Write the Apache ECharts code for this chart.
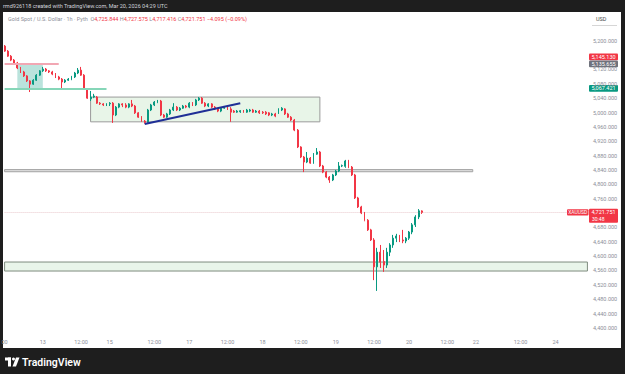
<!DOCTYPE html>
<html>
<head>
<meta charset="utf-8">
<script src="https://cdn.jsdelivr.net/npm/echarts@6/dist/echarts.min.js"></script>
<style>
  html, body { margin: 0; padding: 0; background: #1e1e1e; }
  #panel { position: absolute; left: 3px; top: 12px; width: 618px; height: 336px; background: #ffffff; }
  #chart { position: absolute; left: 0; top: 0; width: 625px; height: 374px; }
</style>
</head>
<body>
<div id="panel"></div>
<div id="chart"></div>
<script>
// XAUUSD 1h candles, [open, close, low, high]
const candles = [
  [5185, 5171, 5169, 5188], [5171, 5157, 5155, 5174], [5157, 5146, 5143, 5160], [5146, 5138, 5135, 5149],
  [5138, 5124, 5121, 5141], [5124, 5113, 5110, 5127], [5113, 5102, 5099, 5116], [5102, 5088, 5085, 5104],
  [5088, 5079, 5057, 5090], [5079, 5090, 5077, 5093], [5090, 5104, 5088, 5107], [5104, 5116, 5102, 5118],
  [5116, 5121, 5113, 5127], [5121, 5116, 5113, 5124], [5116, 5113, 5110, 5118], [5113, 5107, 5104, 5116],
  [5107, 5099, 5096, 5110], [5099, 5093, 5090, 5102], [5093, 5085, 5065, 5096], [5085, 5090, 5082, 5093],
  [5090, 5093, 5088, 5096], [5093, 5099, 5090, 5102], [5099, 5110, 5096, 5113], [5110, 5118, 5107, 5124],
  [5118, 5104, 5102, 5127], [5104, 5065, 5063, 5107], [5065, 5040, 5038, 5068], [5038, 5043, 5032, 5060],
  [5043, 5046, 5040, 5052], [5043, 5026, 5024, 5046], [5026, 5024, 5021, 5029], [5024, 5021, 5018, 5026],
  [5021, 5024, 5018, 5026], [5024, 5026, 5018, 5029], [5026, 4993, 4971, 5029], [4993, 5015, 4990, 5018],
  [5015, 5024, 5012, 5026], [5024, 5021, 5015, 5026], [5021, 5015, 5012, 5026], [5015, 5024, 5012, 5026],
  [5024, 5018, 5015, 5035], [5018, 4999, 4996, 5021], [4999, 4987, 4985, 5001], [4987, 4976, 4974, 4990],
  [4976, 4972, 4969, 4979], [4972, 5007, 4971, 5010], [5007, 5021, 5004, 5024], [5021, 5029, 5018, 5032],
  [5029, 5032, 5026, 5035], [5032, 4993, 4990, 5035], [4993, 4987, 4985, 4996], [4987, 4996, 4985, 4999],
  [4996, 5007, 4993, 5010], [5007, 5015, 5004, 5026], [5015, 5007, 5004, 5018], [5007, 5012, 5004, 5015],
  [5012, 5018, 5010, 5021], [5018, 5015, 5012, 5021], [5015, 5026, 5012, 5029], [5026, 5021, 5018, 5029],
  [5021, 5035, 5018, 5038], [5035, 5040, 5032, 5043], [5040, 5026, 5024, 5043], [5026, 5018, 5015, 5029],
  [5018, 5024, 5015, 5026], [5024, 5015, 5012, 5026], [5015, 5010, 5007, 5018], [5010, 5004, 5001, 5012],
  [5004, 5012, 5001, 5015], [5012, 5015, 5010, 5018], [5015, 5010, 5007, 5018], [5010, 5001, 4974, 5015],
  [5004, 5001, 4999, 5007], [5001, 5004, 4999, 5007], [5002, 5005, 4999, 5007], [5004, 5001, 4999, 5007],
  [5001, 5007, 4999, 5010], [5004, 5007, 5001, 5010], [5007, 5001, 4999, 5010], [5001, 5004, 4999, 5007],
  [5004, 4999, 4996, 5007], [5001, 4999, 4996, 5004], [5001, 4996, 4993, 5004], [4999, 4993, 4990, 5001],
  [4993, 4996, 4990, 4999], [4996, 4990, 4987, 4999], [4999, 5010, 4996, 5012], [5007, 5012, 5004, 5015],
  [5010, 4996, 4993, 5012], [4996, 4987, 4985, 4999], [4987, 4979, 4976, 4990], [4979, 4951, 4948, 4982],
  [4951, 4904, 4901, 4954], [4904, 4876, 4873, 4906], [4876, 4862, 4834, 4879], [4862, 4873, 4859, 4890],
  [4873, 4859, 4857, 4876], [4859, 4884, 4857, 4887], [4884, 4890, 4882, 4901], [4890, 4851, 4848, 4893],
  [4851, 4834, 4831, 4854], [4834, 4820, 4817, 4837], [4820, 4812, 4804, 4823], [4812, 4826, 4809, 4829],
  [4826, 4837, 4823, 4840], [4837, 4851, 4834, 4862], [4851, 4852, 4848, 4855], [4850, 4865, 4846, 4868],
  [4865, 4848, 4845, 4868], [4848, 4826, 4823, 4851], [4826, 4762, 4759, 4829], [4762, 4737, 4734, 4765],
  [4737, 4720, 4717, 4740], [4720, 4700, 4697, 4723], [4700, 4673, 4670, 4703], [4673, 4645, 4642, 4676],
  [4645, 4570, 4533, 4650], [4570, 4611, 4503, 4623], [4611, 4583, 4567, 4631], [4585, 4575, 4556, 4617],
  [4575, 4611, 4567, 4623], [4611, 4631, 4600, 4636], [4631, 4650, 4623, 4659], [4650, 4656, 4639, 4662],
  [4656, 4645, 4639, 4659], [4645, 4642, 4636, 4673], [4642, 4650, 4636, 4653], [4650, 4667, 4645, 4670],
  [4667, 4687, 4661, 4692], [4687, 4709, 4681, 4714], [4709, 4726, 4703, 4731],
  [4725.844, 4721.751, 4717.416, 4727.575]
];
const futureBars = 52; // empty hourly slots to the right of the last candle
const categories = Array.from({ length: candles.length + futureBars }, (_, i) => String(i));

// time scale labels: [bar index, text] (the first one is cut by the left edge in the original)
const tickLabels = [
  [0, '00'], [12, '13'], [24, '12:00'], [33, '15'], [47, '12:00'], [58, '17'],
  [70, '12:00'], [81, '18'], [93, '12:00'], [104, '19'], [116, '12:00'], [127, '20'],
  [139, '12:00'], [148, '22'], [162, '12:00'], [173, '24']
];
// price-scale values hidden behind the tags in the original
const hiddenPriceLabels = [5160, 4720];

// drawings
const pinkLevel = 5135.655;
const greenLevel = 5067.421;
const redTagLevel = 5145.130;
const lastPrice = 4721.751;
const positionBox = [4, 12, 5135.655, 5067.421];     // x from, x to, top, bottom
const rangeBox = [27, 99, 5043, 4974];
const midBand = [0, 147, 4841, 4835];
const lowBand = [0, 183, 4583.5, 4558.4];
const trendLine = [[44, 4968], [74, 5026]];

const UP = '#089981';
const DOWN = '#f23645';
const FONT = 'Roboto';

const labelMap = {};
tickLabels.forEach(t => { labelMap[t[0]] = t[1]; });

const fmt = v => v.toLocaleString('en-US', { minimumFractionDigits: 3, maximumFractionDigits: 3 });

const chart = echarts.init(document.getElementById('chart'), null, { renderer: 'svg' });

const box = (b, style) => [
  { coord: [b[0], b[2]], itemStyle: style },
  { coord: [b[1], b[3]] }
];

chart.setOption({
  animation: false,
  backgroundColor: 'transparent',
  textStyle: { fontFamily: FONT },
  grid: { left: 3, right: 36, top: 26.35, bottom: 31.75, containLabel: false, outerBoundsMode: 'none' },
  xAxis: {
    type: 'category',
    data: categories,
    boundaryGap: true,
    axisLine: { show: false },
    axisTick: { show: false },
    splitLine: { show: false },
    axisLabel: {
      interval: (idx) => labelMap[idx] !== undefined,
      formatter: (v, idx) => labelMap[idx] || '',
      color: '#8c8f99',
      fontSize: 5.5,
      margin: -3
    }
  },
  yAxis: {
    type: 'value',
    position: 'right',
    min: 4360,
    max: 5240,
    interval: 40,
    axisLine: { show: false },
    axisTick: { show: false },
    splitLine: { show: false },
    axisLabel: {
      color: '#8c8f99',
      fontSize: 5.5,
      margin: 4,
      showMinLabel: false,
      showMaxLabel: false,
      formatter: v => (hiddenPriceLabels.includes(v) ? '' : fmt(v))
    }
  },
  series: [{
    type: 'candlestick',
    data: candles,
    barWidth: 1.4,
    itemStyle: { color: UP, color0: DOWN, borderColor: UP, borderColor0: DOWN, borderWidth: 1 },
    markArea: {
      silent: true,
      data: [
        box(positionBox, { color: 'rgba(8,153,129,0.28)' }),
        box(rangeBox, { color: 'rgba(76,175,80,0.13)', borderColor: '#9a9a9a', borderWidth: 1 }),
        box(midBand, { color: 'rgba(120,120,120,0.25)', borderColor: '#a3a3a3', borderWidth: 1 }),
        box(lowBand, { color: 'rgba(76,175,80,0.12)', borderColor: '#7f8c7f', borderWidth: 1 })
      ]
    },
    markLine: {
      silent: true,
      symbol: ['none', 'none'],
      label: { show: false },
      data: [
        [{ coord: [0, pinkLevel], lineStyle: { color: '#f2a7b3', width: 2, type: 'solid' } }, { coord: [17, pinkLevel] }],
        [{ coord: [0, greenLevel], lineStyle: { color: '#86d6b8', width: 2, type: 'solid' } }, { coord: [32, greenLevel] }],
        [{ coord: trendLine[0], lineStyle: { color: '#1f2f96', width: 2, type: 'solid' } }, { coord: trendLine[1] }],
        [{ coord: [0, lastPrice], lineStyle: { color: 'rgba(200,120,130,0.4)', width: 1, type: 'dotted' } }, { coord: [categories.length - 1, lastPrice] }]
      ]
    }
  }]
});

// price-scale tags, header and footer
const yPix = v => chart.convertToPixel({ yAxisIndex: 0 }, v);
const tagX = 589, tagW = 29;
const tag = (yc, bg, text) => ({
  type: 'group',
  children: [
    { type: 'rect', shape: { x: tagX, y: yc - 3.4, width: tagW, height: 6.8, r: 1 }, style: { fill: bg } },
    { type: 'text', x: tagX + tagW / 2, y: yc, style: { text: text, fill: '#fff', fontSize: 5.5, fontFamily: FONT, align: 'center', verticalAlign: 'middle' } }
  ]
});

const yGray = yPix(pinkLevel);
const yRed = Math.min(yPix(redTagLevel), yGray - 7);
const yLast = yPix(lastPrice);

chart.setOption({
  graphic: [
    { type: 'text', x: 3, y: 6, style: { text: 'rmd926118 created with TradingView.com, Mar 20, 2026 04:29 UTC', fill: '#d1d4dc', fontSize: 5.5, fontFamily: FONT, verticalAlign: 'middle' } },
    {
      type: 'text', x: 8, y: 19,
      style: {
        text: '{g|Gold Spot / U.S. Dollar · 1h · Pyth}  {g|O}{r|4,725.844} {g|H}{r|4,727.575} {g|L}{r|4,717.416} {g|C}{r|4,721.751} {r|−4.095 (−0.09%)}',
        verticalAlign: 'middle', fontFamily: FONT, fontSize: 5.5,
        rich: { g: { fill: '#8c8f99', fontSize: 5.5, fontFamily: FONT }, r: { fill: DOWN, fontSize: 5.5, fontFamily: FONT } }
      }
    },
    { type: 'text', x: 596, y: 19, style: { text: 'USD', fill: '#4a4a4a', fontSize: 5.5, fontFamily: FONT, verticalAlign: 'middle' } },
    { type: 'line', shape: { x1: 592, y1: 25.5, x2: 617, y2: 25.5 }, style: { stroke: '#d6d6d6', lineWidth: 1 } },
    tag(yRed, DOWN, fmt(redTagLevel)),
    tag(yGray, '#6f727c', fmt(pinkLevel)),
    tag(yPix(greenLevel), UP, fmt(greenLevel)),
    {
      type: 'group',
      children: [
        { type: 'rect', shape: { x: 567, y: yLast - 3.2, width: 21.5, height: 6.4, r: 1 }, style: { fill: DOWN } },
        { type: 'text', x: 577.7, y: yLast, style: { text: 'XAUUSD', fill: '#fff', fontSize: 5, fontFamily: FONT, align: 'center', verticalAlign: 'middle' } },
        { type: 'rect', shape: { x: tagX, y: yLast - 3.6, width: tagW, height: 14, r: 1 }, style: { fill: DOWN } },
        { type: 'text', x: tagX + tagW / 2, y: yLast, style: { text: fmt(lastPrice), fill: '#fff', fontSize: 5.5, fontFamily: FONT, align: 'center', verticalAlign: 'middle' } },
        { type: 'text', x: tagX + 3, y: yLast + 6.8, style: { text: '30:48', fill: '#fff', fontSize: 5, fontFamily: FONT, verticalAlign: 'middle' } }
      ]
    },
    {
      type: 'group',
      children: [
        { type: 'rect', shape: { x: 5, y: 357.5, width: 6, height: 3 }, style: { fill: '#fff' } },
        { type: 'rect', shape: { x: 8, y: 357.5, width: 3, height: 9 }, style: { fill: '#fff' } },
        { type: 'circle', shape: { cx: 13.5, cy: 359, r: 1.5 }, style: { fill: '#fff' } },
        { type: 'polygon', shape: { points: [[16, 357.5], [19.5, 357.5], [16, 366.5], [12.5, 366.5]] }, style: { fill: '#fff' } },
        { type: 'text', x: 22, y: 362, style: { text: 'TradingView', fill: '#ffffff', fontSize: 10.5, fontWeight: 600, fontFamily: FONT, verticalAlign: 'middle' } }
      ]
    }
  ]
});
</script>
</body>
</html>
